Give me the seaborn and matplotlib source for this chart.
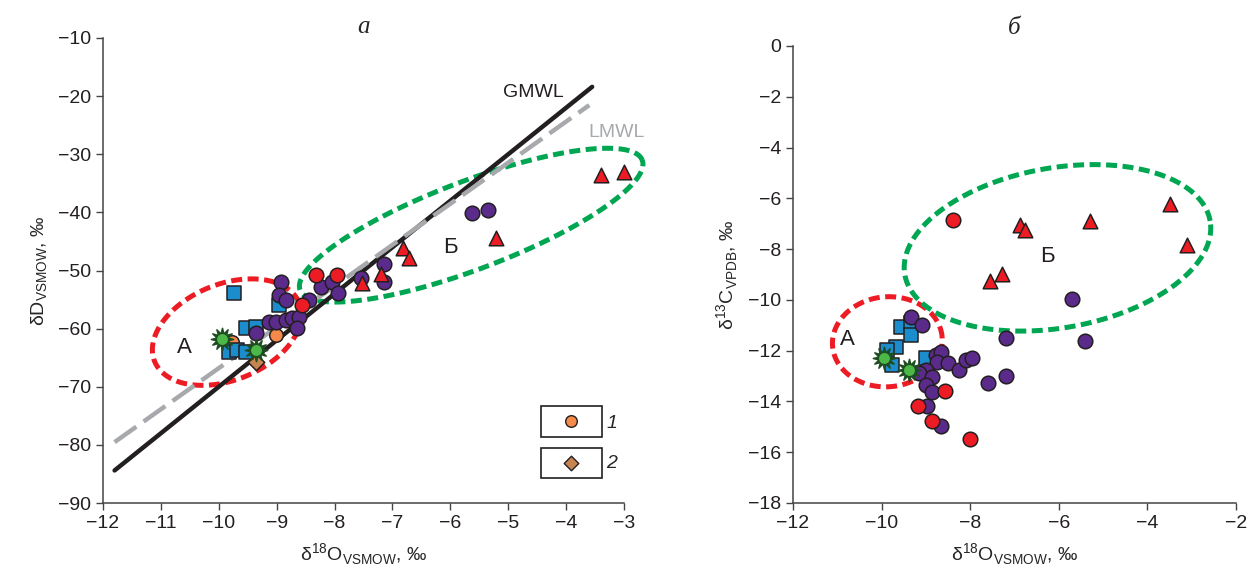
import numpy as np
import pandas as pd
import matplotlib
matplotlib.use('Agg')
import matplotlib.pyplot as plt
import seaborn as sns
from matplotlib.patches import Rectangle

# ---- data ----
# panel a: d18O vs dD
purple_o = [-8.93, -8.96, -8.84, -8.44, -8.23, -8.04, -9.13, -9.01, -8.84, -8.74,
            -8.61, -8.65, -9.36, -5.63, -5.35, -7.15, -7.15, -7.54, -7.94]
purple_d = [-52.0, -54.2, -55.1, -55.0, -52.9, -51.9, -58.9, -58.9, -58.5, -58.2,
            -58.0, -59.9, -60.8, -40.1, -39.6, -48.9, -52.0, -51.3, -53.9]
redc_o = [-8.56, -8.32, -7.96]
redc_d = [-56.0, -50.8, -50.8]
tri_o = [-6.82, -6.72, -7.20, -7.53, -5.21, -3.40, -3.00]
tri_d = [-46.1, -47.9, -50.6, -52.2, -44.4, -33.6, -33.1]
blue_o = [-9.74, -8.96, -9.53, -9.36, -9.82, -9.69, -9.53]
blue_d = [-53.9, -56.0, -59.9, -59.7, -64.0, -63.7, -64.0]
star_o = [-9.94, -9.36]
star_d = [-61.8, -63.7]
orange_o = [-9.77, -9.01]
orange_d = [-62.3, -61.1]
diam_o = [-9.36]
diam_d = [-65.8]

# panel b: d18O vs d13C
purple_o2 = [-9.34, -9.09, -8.78, -8.67, -8.76, -8.49, -8.26, -8.09, -7.97, -7.59,
             -9.00, -9.16, -8.87, -9.00, -8.87, -8.98, -8.67, -5.71, -7.19, -5.40, -7.19]
purple_c = [-10.67, -11.0, -12.17, -12.05, -12.44, -12.48, -12.76, -12.36, -12.28, -13.27,
            -12.76, -12.87, -13.03, -13.35, -13.62, -14.17, -14.96, -9.96, -11.5, -11.6, -13.0]
redc_o2 = [-8.58, -9.18, -8.87, -8.00, -8.38]
redc_c = [-13.58, -14.17, -14.76, -15.47, -6.85]
tri_o2 = [-6.88, -6.77, -5.29, -3.50, -3.10, -7.28, -7.55]
tri_c = [-7.05, -7.24, -6.89, -6.22, -7.83, -8.98, -9.25]
blue_o2 = [-9.56, -9.34, -9.34, -9.67, -9.87, -9.76, -9.00]
blue_c = [-11.06, -10.9, -11.4, -11.85, -11.97, -12.56, -12.28]
star_o2 = [-9.94, -9.38]
star_c = [-12.28, -12.76]

# meteoric water lines
gmwl_x = [-11.8, -3.55]
lmwl_x = [-11.8, -3.6]

sns.set_style('ticks')
plt.rcParams['font.family'] = ['Liberation Sans', 'DejaVu Sans']
plt.rcParams['mathtext.fontset'] = 'custom'
plt.rcParams['mathtext.rm'] = 'Liberation Sans'
plt.rcParams['axes.edgecolor'] = '#444444'
plt.rcParams['xtick.color'] = '#444444'
plt.rcParams['ytick.color'] = '#444444'
plt.rcParams['xtick.labelcolor'] = '#231f20'
plt.rcParams['ytick.labelcolor'] = '#231f20'

fig = plt.figure(figsize=(12.48, 5.68), dpi=100)
ax1 = fig.add_axes([103/1248, 1-503/568, 521/1248, 465/568])
ax2 = fig.add_axes([793/1248, 1-503/568, 443/1248, 457/568])

RED = '#ed1c24'
PURPLE = '#5b2b8c'
BLUE = '#1b8ccc'
GREEN = '#00a651'


def ellipse(ax, cx, cy, a, b, ang, color):
    # a, b in pixels, angle in degrees (screen space)
    W, H = fig.get_size_inches() * fig.dpi
    pos = ax.get_position()
    x0, x1 = ax.get_xlim()
    y0, y1 = ax.get_ylim()
    sx = pos.width * W / (x1 - x0)
    sy = pos.height * H / (y1 - y0)
    t = np.linspace(0, 2 * np.pi, 400)
    th = np.deg2rad(ang)
    px = a * np.cos(t) * np.cos(th) - b * np.sin(t) * np.sin(th)
    py = a * np.cos(t) * np.sin(th) + b * np.sin(t) * np.cos(th)
    ax.plot(cx + px / sx, cy + py / sy, color=color, lw=3.6, ls=(0, (2.2, 1.1)),
            zorder=2, clip_on=False)


def pts(ax, x, y, marker, color, s, z=4, ec='#231f20'):
    df = pd.DataFrame({'x': x, 'y': y})
    sns.scatterplot(data=df, x='x', y='y', marker=marker, color=color, s=s,
                    edgecolor=ec, linewidth=1.1, ax=ax, zorder=z, clip_on=False)


def stars(ax, x, y):
    pts(ax, x, y, (12, 1, 0), '#1f4d22', 260, z=6, ec='#1f4d22')
    pts(ax, x, y, 'o', '#4cb848', 45, z=7, ec='#4cb848')


# ---------- panel a ----------
ax1.set_xlim(-12, -3)
ax1.set_ylim(-90, -10)
gx = np.array(gmwl_x)
lx = np.array(lmwl_x)
sns.lineplot(x=gx, y=8 * gx + 10, color='#231f20', lw=3.2, ax=ax1, zorder=3)
sns.lineplot(x=lx, y=7.07 * lx + 3.9, color='#a7a9ac', lw=3.2, ax=ax1, zorder=3,
             linestyle=(0, (6, 2)))
ellipse(ax1, -9.86, -60.6, 78, 48, 22, RED)
ellipse(ax1, -5.64, -42.2, 183, 44, 20.8, GREEN)

pts(ax1, orange_o, orange_d, 'o', '#f58a4b', 95, z=4)
pts(ax1, diam_o, diam_d, 'D', '#c98550', 70, z=4)
pts(ax1, blue_o, blue_d, 's', BLUE, 95, z=5)
pts(ax1, purple_o, purple_d, 'o', PURPLE, 110, z=5)
pts(ax1, redc_o, redc_d, 'o', RED, 110, z=5)
pts(ax1, tri_o, tri_d, '^', RED, 110, z=5)
stars(ax1, star_o, star_d)

ax1.text(-4.57, -19.3, 'GMWL', fontsize=14, color='#231f20', ha='center', va='center')
ax1.text(-3.12, -26.2, 'LMWL', fontsize=14, color='#a7a9ac', ha='center', va='center')
ax1.text(-10.6, -63.2, 'А', fontsize=16, color='#231f20', ha='center', va='center')
ax1.text(-6.0, -46.1, 'Б', fontsize=16, color='#231f20', ha='center', va='center')

# legend boxes
ax1.add_patch(Rectangle((0.840, 0.143), 0.117, 0.066, transform=ax1.transAxes,
                        fill=False, ec='#231f20', lw=1.2, clip_on=False))
ax1.add_patch(Rectangle((0.840, 0.054), 0.117, 0.065, transform=ax1.transAxes,
                        fill=False, ec='#231f20', lw=1.2, clip_on=False))
ax1.scatter([0.8985], [0.176], transform=ax1.transAxes, marker='o', s=70,
            color='#f58a4b', edgecolor='#231f20', lw=1, clip_on=False, zorder=8)
ax1.scatter([0.8985], [0.0865], transform=ax1.transAxes, marker='D', s=55,
            color='#c98550', edgecolor='#231f20', lw=1, clip_on=False, zorder=8)
ax1.text(0.977, 0.172, '1', transform=ax1.transAxes, fontsize=14, style='italic',
         ha='center', va='center')
ax1.text(0.977, 0.084, '2', transform=ax1.transAxes, fontsize=14, style='italic',
         ha='center', va='center')

ax1.set_xticks(np.arange(-12, -2, 1))
ax1.set_yticks(np.arange(-90, 0, 10))
ax1.set_xlabel('δ$^{\\mathregular{18}}$O$_{\\mathregular{VSMOW}}$, ‰', fontsize=14, labelpad=7)
ax1.set_ylabel('δD$_{\\mathregular{VSMOW}}$, ‰', fontsize=14, labelpad=6)
ax1.set_title('а', fontsize=18, style='italic', family='Liberation Serif', pad=3)

# ---------- panel b ----------
ax2.set_xlim(-12, -2)
ax2.set_ylim(-18, 0)
ellipse(ax2, -9.87, -11.65, 55, 45, 5, RED)
ellipse(ax2, -6.03, -7.95, 155, 80, 10, GREEN)

pts(ax2, blue_o2, blue_c, 's', BLUE, 95, z=5)
pts(ax2, purple_o2, purple_c, 'o', PURPLE, 110, z=5)
pts(ax2, redc_o2, redc_c, 'o', RED, 110, z=5)
pts(ax2, tri_o2, tri_c, '^', RED, 110, z=5)
stars(ax2, star_o2, star_c)

ax2.text(-10.77, -11.57, 'А', fontsize=16, color='#231f20', ha='center', va='center')
ax2.text(-6.25, -8.3, 'Б', fontsize=16, color='#231f20', ha='center', va='center')

ax2.set_xticks(np.arange(-12, -1, 2))
ax2.set_yticks(np.arange(-18, 1, 2))
ax2.set_xlabel('δ$^{\\mathregular{18}}$O$_{\\mathregular{VSMOW}}$, ‰', fontsize=14, labelpad=7)
ax2.set_ylabel('δ$^{\\mathregular{13}}$C$_{\\mathregular{VPDB}}$, ‰', fontsize=14, labelpad=6)
ax2.set_title('б', fontsize=18, style='italic', family='Liberation Serif', pad=9)

for ax in (ax1, ax2):
    sns.despine(ax=ax)
    ax.tick_params(labelsize=14, length=5, width=1, direction='out')
    for sp in ax.spines.values():
        sp.set_linewidth(1.1)

fig.savefig('out.png', dpi=100)
